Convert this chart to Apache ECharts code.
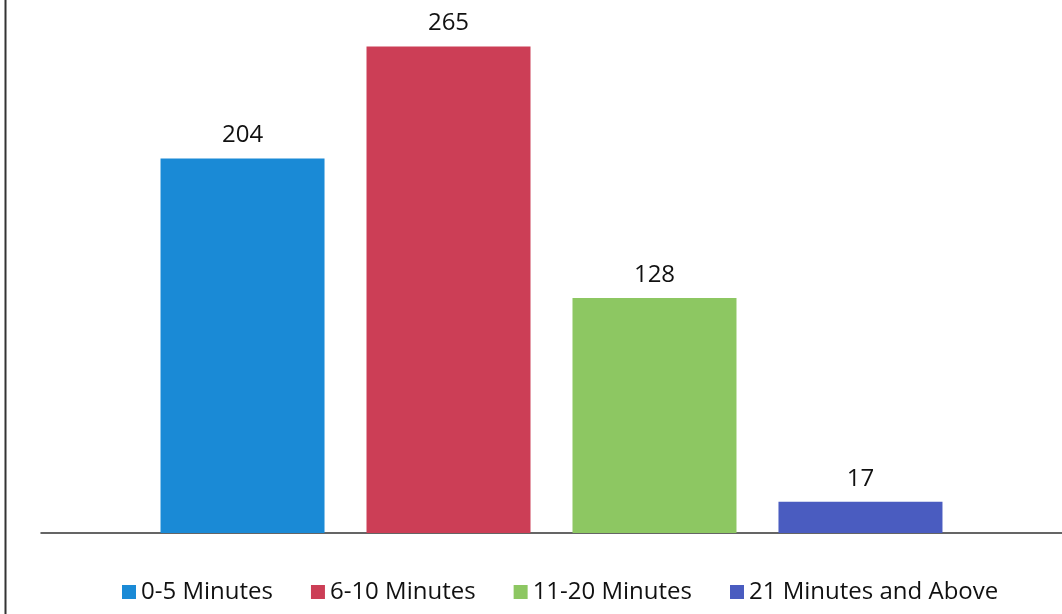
<!DOCTYPE html>
<html>
<head>
<meta charset="utf-8">
<script src="https://cdn.jsdelivr.net/npm/echarts@6/dist/echarts.min.js"></script>
<style>
html,body{margin:0;padding:0;background:#fff;}
#chart{width:1062px;height:614px;}
</style>
</head>
<body>
<div id="chart"></div>
<script>
const categories = [''];
const seriesNames = ['0-5 Minutes', '6-10 Minutes', '11-20 Minutes', '21 Minutes and Above'];
const seriesValues = [204, 265, 128, 17];
const seriesColors = ['#1A8AD6', '#CC3E56', '#8DC762', '#4A5CC0'];

const chart = echarts.init(document.getElementById('chart'));
const series = seriesNames.map((name, i) => ({
  name: name,
  type: 'bar',
  data: [seriesValues[i]],
  barWidth: 164,
  barGap: '25.6%',
  itemStyle: { color: seriesColors[i] },
  label: {
    show: true,
    position: 'top',
    distance: 11,
    color: '#111',
    fontSize: 24,
    fontFamily: 'Open Sans, Liberation Sans, sans-serif'
  }
}));

chart.setOption({
  animation: false,
  backgroundColor: '#ffffff',
  grid: { left: 41, top: 19, width: 1031, height: 514 },
  xAxis: {
    type: 'category',
    data: categories,
    axisLine: { show: true, lineStyle: { color: '#333', width: 1.5 } },
    axisTick: { show: false },
    axisLabel: { show: false }
  },
  yAxis: {
    type: 'value',
    min: 0,
    max: 280,
    show: false,
    splitLine: { show: false }
  },
  legend: {
    data: seriesNames,
    left: 117,
    top: 575,
    itemWidth: 14,
    itemHeight: 14,
    itemGap: 38,
    icon: 'rect',
    textStyle: {
      fontSize: 24,
      color: '#111',
      fontFamily: 'Open Sans, Liberation Sans, sans-serif'
    }
  },
  graphic: [{
    type: 'line',
    shape: { x1: 5.5, y1: 0, x2: 5.5, y2: 614 },
    style: { stroke: '#333', lineWidth: 2 }
  }],
  series: series
});
</script>
</body>
</html>
